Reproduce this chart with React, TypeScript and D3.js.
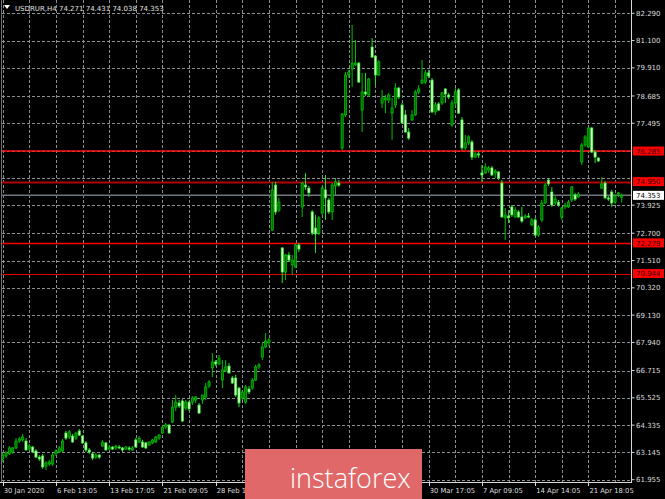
import React from "react";
import * as d3 from "d3";

const symbol = "USDRUR,H4";
const headerValues = ["74.271", "74.431", "74.038", "74.353"];

// [open, high, low, close]
const ohlc: [number, number, number, number][] = [
  [62.86, 63.12, 62.73, 63.03], [62.99, 63.21, 62.90, 63.12], [63.08, 63.42, 63.03, 63.34], [63.16, 63.38, 63.08, 63.34],
  [63.34, 63.77, 63.29, 63.64], [63.64, 63.82, 63.56, 63.73], [63.69, 63.95, 63.60, 63.82], [63.64, 63.77, 63.21, 63.25],
  [63.29, 63.51, 63.25, 63.42], [63.38, 63.42, 63.12, 63.16], [63.21, 63.29, 62.90, 62.94], [62.94, 63.03, 62.77, 62.86],
  [62.99, 63.08, 62.42, 62.51], [62.55, 62.77, 62.38, 62.68], [62.64, 62.81, 62.55, 62.73], [62.64, 63.12, 62.55, 63.03],
  [63.08, 63.29, 62.99, 63.21], [63.16, 63.42, 63.12, 63.34], [63.21, 63.73, 63.16, 63.64], [63.99, 64.08, 63.69, 63.77],
  [63.82, 64.12, 63.73, 64.04], [63.86, 63.95, 63.56, 63.60], [63.77, 64.04, 63.69, 63.99], [64.08, 64.17, 63.86, 63.90],
  [63.86, 63.90, 63.51, 63.56], [63.56, 63.64, 63.16, 63.25], [63.25, 63.34, 63.08, 63.16], [63.08, 63.12, 62.81, 62.90],
  [62.94, 63.12, 62.86, 63.03], [63.03, 63.08, 62.86, 62.94], [63.42, 63.69, 63.38, 63.60], [63.56, 63.60, 63.21, 63.25],
  [63.29, 63.47, 63.25, 63.38], [63.38, 63.42, 63.25, 63.29], [63.34, 63.47, 63.25, 63.42], [63.38, 63.47, 63.29, 63.34],
  [63.34, 63.38, 63.16, 63.25], [63.29, 63.42, 63.25, 63.38], [63.34, 63.42, 63.21, 63.29], [63.25, 63.42, 63.21, 63.34],
  [63.69, 63.77, 63.34, 63.38], [63.60, 63.86, 63.56, 63.77], [63.60, 63.69, 63.34, 63.38], [63.56, 63.60, 63.29, 63.34],
  [63.47, 63.64, 63.42, 63.60], [63.56, 63.73, 63.51, 63.69], [63.60, 63.86, 63.56, 63.82], [63.77, 63.95, 63.69, 63.90],
  [63.99, 64.34, 63.95, 64.25], [64.25, 64.43, 64.17, 64.34], [64.34, 64.38, 63.95, 63.99], [64.47, 65.43, 64.43, 65.12],
  [65.12, 65.65, 64.95, 65.34], [65.30, 65.43, 65.08, 65.17], [65.39, 65.47, 64.47, 64.51], [65.08, 65.43, 64.99, 65.34],
  [65.34, 65.39, 64.95, 65.04], [65.34, 65.60, 65.21, 65.52], [65.43, 65.60, 65.30, 65.56], [65.21, 65.30, 64.82, 64.86],
  [65.43, 65.65, 65.26, 65.65], [65.56, 66.17, 65.43, 66.00], [66.04, 66.30, 65.95, 66.22], [66.83, 67.48, 66.43, 67.09],
  [67.09, 67.17, 66.91, 67.00], [67.00, 67.39, 66.96, 67.26], [66.30, 67.17, 65.95, 66.74], [66.70, 67.17, 66.65, 66.87],
  [66.91, 67.04, 66.57, 66.61], [66.39, 66.48, 66.13, 66.17], [66.39, 66.52, 65.56, 65.65], [65.95, 66.00, 65.12, 65.30],
  [65.52, 65.87, 65.43, 65.78], [65.34, 66.08, 65.26, 66.00], [65.91, 66.04, 65.69, 65.78], [65.95, 66.39, 65.87, 66.30],
  [66.30, 66.96, 66.26, 66.87], [66.87, 67.04, 66.78, 66.96], [67.30, 67.96, 67.17, 67.74], [67.74, 68.35, 67.70, 68.00],
  [67.92, 68.13, 67.79, 68.05], [72.84, 74.94, 72.80, 74.59], [74.80, 74.94, 73.50, 73.63], [73.71, 74.24, 73.63, 74.06],
  [72.06, 72.10, 70.53, 71.01], [71.01, 71.80, 70.66, 71.75], [71.75, 71.88, 71.45, 71.53], [71.32, 71.75, 70.88, 71.53],
  [71.23, 72.23, 71.19, 72.19], [72.19, 72.28, 71.88, 72.01], [73.85, 74.94, 73.41, 74.89], [74.80, 75.33, 74.59, 74.72],
  [74.67, 74.76, 74.28, 74.46], [73.63, 73.71, 72.62, 72.71], [72.93, 73.50, 71.84, 72.67], [72.71, 73.45, 72.62, 73.37],
  [73.58, 74.76, 73.50, 74.67], [74.59, 75.24, 73.28, 74.24], [74.15, 74.24, 73.54, 73.63], [73.63, 74.89, 73.28, 74.80],
  [74.76, 75.11, 74.37, 74.94], [74.89, 75.02, 74.72, 74.80], [76.42, 77.94, 76.33, 77.90], [77.86, 79.73, 77.77, 79.60],
  [79.60, 79.82, 79.47, 79.73], [79.86, 81.78, 79.08, 80.12], [80.04, 81.13, 79.99, 80.12], [80.12, 80.17, 79.25, 79.29],
  [78.07, 79.69, 77.11, 78.86], [78.86, 79.69, 78.68, 78.77], [78.73, 79.47, 78.64, 79.43], [80.82, 81.21, 80.34, 80.38],
  [80.43, 80.47, 79.16, 79.60], [79.60, 80.25, 79.56, 80.17], [78.38, 78.95, 78.16, 78.60], [78.51, 78.73, 77.94, 78.60],
  [78.51, 78.82, 78.38, 78.73], [77.94, 78.60, 76.77, 78.16], [78.29, 79.25, 78.16, 79.03], [79.03, 79.08, 78.55, 78.64],
  [78.29, 78.38, 77.46, 77.51], [77.86, 78.07, 77.11, 77.11], [77.11, 77.29, 76.77, 76.85], [77.64, 78.07, 77.59, 77.86],
  [77.86, 78.95, 77.81, 78.86], [78.86, 79.16, 78.77, 78.99], [79.25, 80.25, 79.21, 79.38], [79.29, 79.82, 79.21, 79.69],
  [79.69, 79.82, 79.47, 79.56], [79.38, 79.47, 77.94, 77.99], [77.99, 78.42, 77.86, 78.29], [78.34, 78.42, 78.03, 78.07],
  [78.38, 78.86, 78.29, 78.82], [78.99, 79.03, 78.38, 78.77], [78.73, 78.82, 78.55, 78.64], [77.42, 78.51, 77.33, 78.38],
  [78.38, 79.03, 78.20, 78.86], [78.95, 79.03, 77.90, 77.94], [77.64, 77.77, 76.33, 76.42], [76.42, 76.98, 76.33, 76.64],
  [76.64, 76.98, 76.55, 76.90], [76.68, 76.77, 75.89, 76.02], [76.02, 76.24, 75.98, 76.16], [76.16, 76.24, 75.98, 76.11],
  [75.33, 75.68, 74.94, 75.24], [75.33, 75.76, 75.28, 75.59], [75.46, 75.63, 75.33, 75.55], [75.55, 75.63, 75.20, 75.24],
  [75.33, 75.50, 75.11, 75.41], [75.37, 75.41, 75.02, 75.11], [74.89, 75.02, 73.37, 73.41], [73.37, 73.80, 72.41, 73.50],
  [73.45, 73.71, 73.15, 73.37], [73.85, 73.93, 73.41, 73.50], [73.41, 73.85, 73.37, 73.71], [73.63, 73.71, 73.37, 73.41],
  [73.41, 73.85, 73.15, 73.23], [73.37, 73.54, 73.32, 73.45], [73.45, 73.58, 73.37, 73.41], [73.06, 73.37, 73.02, 73.28],
  [73.28, 73.37, 72.58, 72.62], [72.62, 73.06, 72.54, 72.97], [73.28, 74.15, 73.19, 74.02], [74.02, 74.89, 73.98, 74.80],
  [75.02, 75.11, 74.76, 74.85], [74.50, 74.72, 73.85, 73.93], [74.02, 74.32, 73.93, 74.19], [74.06, 74.15, 73.85, 73.93],
  [73.41, 73.85, 73.28, 73.80], [73.85, 74.02, 73.76, 73.93], [73.85, 74.15, 73.80, 74.06], [74.15, 74.76, 74.06, 74.72],
  [74.37, 74.46, 74.11, 74.19], [74.28, 74.50, 74.24, 74.41], [75.81, 76.64, 75.68, 76.55], [76.55, 76.98, 76.46, 76.90],
  [76.46, 77.33, 76.42, 77.29], [77.29, 77.33, 76.20, 76.24], [76.24, 76.33, 75.76, 76.02], [75.98, 76.02, 75.81, 75.85],
  [74.67, 75.15, 74.63, 74.85], [74.89, 74.98, 74.19, 74.24], [74.24, 74.32, 74.11, 74.19], [74.50, 74.59, 73.85, 74.02],
  [74.06, 74.41, 73.98, 74.32], [74.41, 74.50, 74.28, 74.46], [74.271, 74.431, 74.038, 74.353],
];

const priceTicks = [82.29, 81.1, 79.91, 78.685, 77.495, 76.305, 75.115, 73.925, 72.7, 71.51, 70.32, 69.13, 67.94, 66.715, 65.525, 64.335, 63.145, 61.955];
const hiddenPriceLabels = [76.305, 75.115];
// one label every 16 bars; the ones covered by the logo are left empty
const timeLabels = [
  "30 Jan 2020", "6 Feb 13:05", "13 Feb 17:05", "21 Feb 09:05", "28 Feb 13:05", "",
  "", "", "30 Mar 17:05", "7 Apr 09:05", "14 Apr 14:05", "21 Apr 18:05",
];
const levelPrices = [76.285, 74.95, 72.279, 70.944];
const currentPrice = 74.353;

const FONT = "DejaVu Sans";
const levelStyle = [
  { stroke: "#ff1010", width: 1.4, snap: false },
  { stroke: "#b00000", width: 2, snap: true },
  { stroke: "#ff0000", width: 1.5, snap: true },
  { stroke: "#e00000", width: 1.2, snap: true },
];

export default function App() {
  const n = ohlc.length;
  const plotRight = 631.5;
  const plotBottom = 483;
  const x = d3.scaleLinear().domain([0, n - 1]).range([2.7, 621.7]);
  const y = d3.scaleLinear().domain([61.955, 82.29]).range([479.7, 13.3]);
  const fmt = d3.format(".3f");
  const gridIdx = d3.range(0, n, 8);
  const labelIdx = d3.range(0, n, 16);
  const bodyW = 2.2;
  const snap = (v: number) => Math.round(v) + 0.5;

  return (
    <svg
      width={665}
      height={499}
      style={{ position: "absolute", left: 0, top: 0, display: "block", background: "#000" }}
      fontFamily={FONT}
    >
      <rect x={0} y={0} width={665} height={499} fill="#000" />
      {/* grid */}
      <g stroke="#8a8f96" strokeWidth={1} strokeDasharray="3,2">
        {gridIdx.map((i) => (
          <line key={"v" + i} x1={snap(x(i))} x2={snap(x(i))} y1={0} y2={plotBottom} />
        ))}
        {priceTicks.map((p) => (
          <line key={"h" + p} x1={2} x2={plotRight} y1={snap(y(p))} y2={snap(y(p))} />
        ))}
      </g>
      {/* level lines */}
      {levelPrices.map((p, k) => {
        const yy = levelStyle[k].snap ? snap(y(p)) : y(p);
        return (
          <line key={"lv" + p} x1={2} x2={plotRight} y1={yy} y2={yy} stroke={levelStyle[k].stroke} strokeWidth={levelStyle[k].width} />
        );
      })}
      <line x1={2} x2={plotRight} y1={y(currentPrice)} y2={y(currentPrice)} stroke="#6f757c" strokeWidth={1.5} />
      {/* candles */}
      <g>
        {ohlc.map(([o, h, l, c], i) => {
          const cx = x(i);
          const up = c >= o;
          const top = y(Math.max(o, c));
          const bh = Math.max(1, Math.abs(y(o) - y(c)));
          return (
            <g key={i}>
              <line x1={cx} x2={cx} y1={y(h)} y2={y(l)} stroke={up ? "#00c000" : "#22e022"} strokeWidth={1} />
              <rect
                x={cx - bodyW / 2}
                y={top}
                width={bodyW}
                height={bh}
                fill={up ? "#006e00" : "#d8ffc8"}
                stroke={up ? "#00c800" : "#33ee33"}
                strokeWidth={0.7}
              />
            </g>
          );
        })}
      </g>
      {/* axes */}
      <line x1={1.5} x2={1.5} y1={0} y2={plotBottom} stroke="#707070" strokeWidth={1} />
      <line x1={plotRight} x2={plotRight} y1={0} y2={plotBottom} stroke="#d8d8d8" strokeWidth={1} />
      <line x1={0} x2={plotRight} y1={plotBottom - 0.5} y2={plotBottom - 0.5} stroke="#d8d8d8" strokeWidth={1} />
      {/* price labels */}
      <g fontSize={7} fill="#dcdcdc">
        {priceTicks
          .filter((p) => !hiddenPriceLabels.includes(p))
          .map((p) => (
            <g key={"pl" + p}>
              <line x1={plotRight} x2={plotRight + 3} y1={y(p)} y2={y(p)} stroke="#d8d8d8" />
              <text x={636} y={y(p) + 2.6}>{fmt(p)}</text>
            </g>
          ))}
      </g>
      {levelPrices.map((p) => (
        <g key={"lb" + p}>
          <rect x={633} y={y(p) - 4.5} width={31} height={9} fill="#ff0000" />
          <text x={636} y={y(p) + 2.6} fontSize={7} fill="#300000">{fmt(p)}</text>
        </g>
      ))}
      <rect x={633} y={y(currentPrice) - 4.5} width={31} height={9} fill="#ffffff" />
      <text x={636} y={y(currentPrice) + 2.6} fontSize={7} fill="#000">{fmt(currentPrice)}</text>
      {/* time labels */}
      <g fontSize={6.8} fill="#dcdcdc">
        {labelIdx.map((i, k) => (
          <g key={"tl" + i}>
            <line x1={snap(x(i))} x2={snap(x(i))} y1={plotBottom} y2={plotBottom + 3} stroke="#d8d8d8" />
            {timeLabels[k] ? <text x={x(i) + 1} y={493}>{timeLabels[k]}</text> : null}
          </g>
        ))}
      </g>
      {/* header */}
      <path d="M4,5 L10,5 L7,9 Z" fill="#ffffff" />
      <text x={15} y={10.5} fontSize={7} fill="#e0e0e0">
        {symbol + "  " + headerValues.join(" ")}
      </text>
      {/* logo */}
      <rect x={245} y={449} width={177} height={50} fill="#e06868" />
      <text x={290} y={488} fontSize={27} fill="#ffffff" fontFamily="Open Sans" fontWeight={300}>instaforex</text>
    </svg>
  );
}
